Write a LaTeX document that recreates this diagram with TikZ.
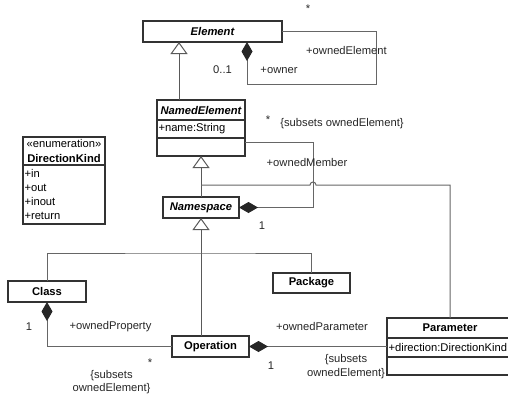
\documentclass[tikz,border=0pt]{standalone}
\usepackage{fontspec}
\setmainfont{Liberation Sans}
\usetikzlibrary{positioning}
\usetikzlibrary{arrows.meta}
\tikzset{
    umlname/.style = {rectangle, draw=black!80, line width=1.2pt, fill=white, outer sep=0pt, inner sep=1.5pt, align=center, font=\fontsize{11.2}{13.6}\selectfont\bfseries},
    umlabs/.style = {umlname, font=\fontsize{11.2}{13.6}\selectfont\bfseries\itshape},
    umlattr/.style = {rectangle, draw=black!80, line width=1.2pt, fill=white, outer sep=0pt, inner xsep=1.5pt, inner ysep=0pt, align=left, font=\fontsize{11.2}{13.6}\selectfont},
    lbl/.style = {inner sep=0pt, text=black!85, align=center, font=\fontsize{11.2}{13.6}\selectfont},
    edgeg/.style = {-, line width=1pt, black!60},
    edgegen/.style = {-{Triangle[open, length=12pt, width=17pt]}, line width=1pt, black!65}, % generalization
    edgecomp/.style = {{Diamond[length=19pt, width=11pt, color=black!85]}-, line width=1pt, black!60}, % composition
}

\begin{document}
\begin{tikzpicture}[x=1pt, y=-1pt]
\useasboundingbox (0,0) rectangle (508,397);
% classes
\node[umlabs, minimum width=139pt, minimum height=21pt] at ( 212.5,  31.5) (elem) {Element};
\node[umlabs, minimum width=88pt, minimum height=20pt] at ( 201.0, 110.0) (neT) {NamedElement};
\node[umlattr, text width=85pt, minimum height=18pt, below=0pt of neT] (neA) {+name:String};
\node[umlattr, text width=85pt, minimum height=18pt, below=0pt of neA] (neE) {};
\node[umlabs, minimum width=76pt, minimum height=21pt] at ( 201.0, 207.5) (nsp) {Namespace};
\node[umlname, minimum width=82pt, minimum height=28pt, font=\fontsize{11.2}{15}\selectfont] at (  64.0, 151.0) (dkT) {«enumeration»\\\textbf{DirectionKind}};
\node[umlattr, text width=79pt, minimum height=59pt, font=\fontsize{11.2}{13.7}\selectfont, below=0pt of dkT] (dkL) {+in\\+out\\+inout\\+return};
\node[umlname, minimum width=78pt, minimum height=21pt] at (  47.0, 291.5) (cls) {Class};
\node[umlname, minimum width=77pt, minimum height=20pt] at ( 311.5, 283.0) (pkg) {Package};
\node[umlname, minimum width=77pt, minimum height=21pt] at ( 210.5, 346.5) (oper) {Operation};
\node[umlname, minimum width=126pt, minimum height=20pt] at ( 450.0, 328.0) (parT) {Parameter};
\node[umlattr, text width=123pt, minimum height=19pt, below=0pt of parT] (parA) {+direction:DirectionKind};
\node[umlattr, text width=123pt, minimum height=18pt, below=0pt of parA] (parE) {};
% helper points
\coordinate (mbr) at ( 313.0, 142.0);
\coordinate (hop) at ( 313.0, 185.0);
\coordinate (gjoin) at ( 201.0, 185.0);
\coordinate (gbar) at ( 201.0, 253.0);
% connectors
\draw[edgegen] ([xshift=-22pt]neT.north) -- ([xshift=-22pt]neT.north |- elem.south);
\draw[edgecomp] ([xshift=34.5pt]elem.south) |- (376,84) |- (elem.east);
\draw[edgegen] (nsp.north) -- (neE.south);
\draw[edgecomp] (nsp.east) -| (mbr) -- (mbr -| neE.east);
\draw[edgeg] (parT.north) |- ([xshift=3pt]hop) arc[start angle=0, end angle=180, radius=3pt] -- (gjoin);
\draw[edgegen] (oper.north -| nsp.south) -- (nsp.south);
\draw[edgeg] (cls.north) |- (gbar) -| (pkg.north);
\draw[edgecomp] (cls.south) |- (oper.west);
\draw[edgecomp] (oper.east) -- (oper.east -| parA.west);
% labels
\node[lbl] at ( 308.0,   9.0) (mElem) {*};
\node[lbl] at ( 346.5,  50.0) (rElem) {+ownedElement};
\node[lbl] at ( 222.5,  70.0) (mOwner) {0..1};
\node[lbl] at ( 279.0,  70.0) (rOwner) {+owner};
\node[lbl] at ( 268.0, 120.0) (mMbr) {*};
\node[lbl] at ( 342.0, 124.0) (sMbr) {\{subsets ownedElement\}};
\node[lbl] at ( 307.0, 162.0) (rMbr) {+ownedMember};
\node[lbl] at ( 262.0, 226.0) (mNsp) {1};
\node[lbl] at (  29.0, 327.0) (mCls) {1};
\node[lbl] at ( 110.5, 327.0) (rProp) {+ownedProperty};
\node[lbl] at ( 150.0, 363.0) (mProp) {*};
\node[lbl] at ( 111.5, 382.0) (sProp) {\{subsets\\ownedElement\}};
\node[lbl] at ( 322.0, 326.0) (rPar) {+ownedParameter};
\node[lbl] at ( 271.0, 366.0) (mOper) {1};
\node[lbl] at ( 346.0, 366.5) (sPar) {\{subsets\\ownedElement\}};
\end{tikzpicture}
\end{document}
